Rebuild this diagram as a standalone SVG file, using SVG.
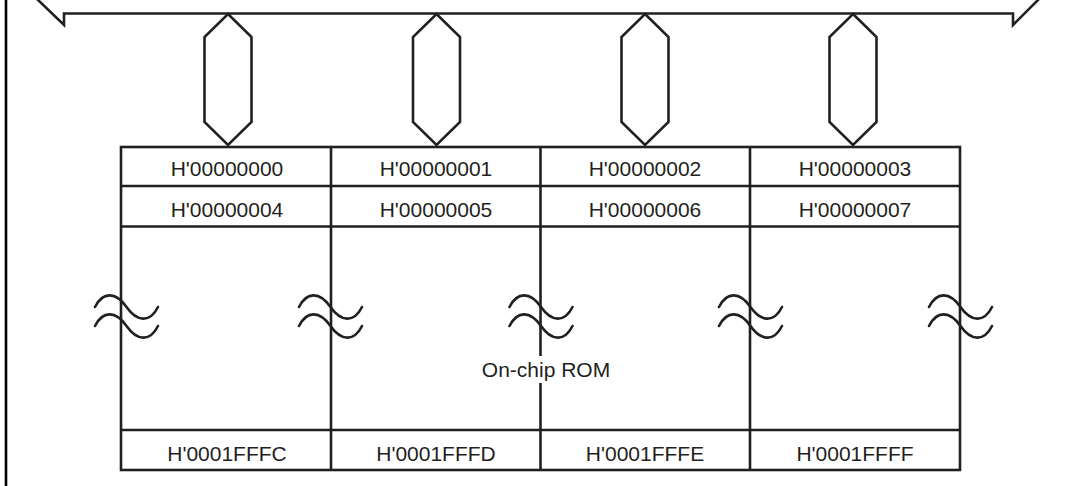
<svg xmlns="http://www.w3.org/2000/svg" width="1066" height="486" viewBox="0 0 1066 486">
<defs>
<style>
.ln{fill:none;stroke:#231f20;stroke-width:2.6;stroke-linejoin:miter}
.cell{fill:#fff;stroke:#231f20;stroke-width:2.6}
.t{font-family:"Liberation Sans",Arial,sans-serif;font-size:21px;fill:#231f20;text-anchor:middle}
.brk{fill:none;stroke:#231f20;stroke-width:2.6;stroke-linecap:round}
</style>
<path id="wave" d="M0,0 C8,-16 21,-15 31.5,0 C42,15 55,16 63,0"/>
<path id="hex" d="M0,0 L23.5,23 L23.5,108 L0,131 L-23.5,108 L-23.5,23 Z"/>
</defs>
<rect width="1066" height="486" fill="#fff"/>
<g id="frame">
<line x1="6" y1="0" x2="6" y2="486" stroke="#000" stroke-width="2.6"/>
</g>
<g id="bus">
<path class="ln" d="M37,-1 L64,25 L64,13.5 L1013,13.5 L1013,25 L1039,-1"/>
</g>
<g id="connectors">
<use href="#hex" class="ln" x="228" y="14"/>
<use href="#hex" class="ln" x="436.5" y="14"/>
<use href="#hex" class="ln" x="645" y="14"/>
<use href="#hex" class="ln" x="853" y="14"/>
</g>
<g id="rom">
<rect class="cell" x="121" y="147" width="839" height="323"/>
<line class="ln" x1="121" y1="186" x2="960" y2="186"/>
<line class="ln" x1="121" y1="226.5" x2="960" y2="226.5"/>
<line class="ln" x1="121" y1="430" x2="960" y2="430"/>
<line class="ln" x1="331" y1="147" x2="331" y2="470"/>
<line class="ln" x1="540.5" y1="147" x2="540.5" y2="470"/>
<line class="ln" x1="750" y1="147" x2="750" y2="470"/>
</g>
<g id="row0">
<text class="t" x="227" y="175.5">H'00000000</text>
<text class="t" x="436" y="175.5">H'00000001</text>
<text class="t" x="645" y="175.5">H'00000002</text>
<text class="t" x="855" y="175.5">H'00000003</text>
</g>
<g id="row1">
<text class="t" x="227" y="216.5">H'00000004</text>
<text class="t" x="436" y="216.5">H'00000005</text>
<text class="t" x="645" y="216.5">H'00000006</text>
<text class="t" x="855" y="216.5">H'00000007</text>
</g>
<g id="rowlast">
<text class="t" x="227" y="460.5">H'0001FFFC</text>
<text class="t" x="436" y="460.5">H'0001FFFD</text>
<text class="t" x="645" y="460.5">H'0001FFFE</text>
<text class="t" x="855" y="460.5">H'0001FFFF</text>
</g>
<g id="breaks">
<use href="#wave" class="brk" x="95" y="307"/>
<use href="#wave" class="brk" x="95" y="326"/>
<use href="#wave" class="brk" x="299" y="307"/>
<use href="#wave" class="brk" x="299" y="326"/>
<use href="#wave" class="brk" x="509.5" y="307"/>
<use href="#wave" class="brk" x="509.5" y="326"/>
<use href="#wave" class="brk" x="719" y="307"/>
<use href="#wave" class="brk" x="719" y="326"/>
<use href="#wave" class="brk" x="929" y="307"/>
<use href="#wave" class="brk" x="929" y="326"/>
</g>
<g id="label">
<rect x="482" y="356" width="128" height="27" fill="#fff"/>
<text class="t" x="546" y="376.5">On-chip ROM</text>
</g>
</svg>
